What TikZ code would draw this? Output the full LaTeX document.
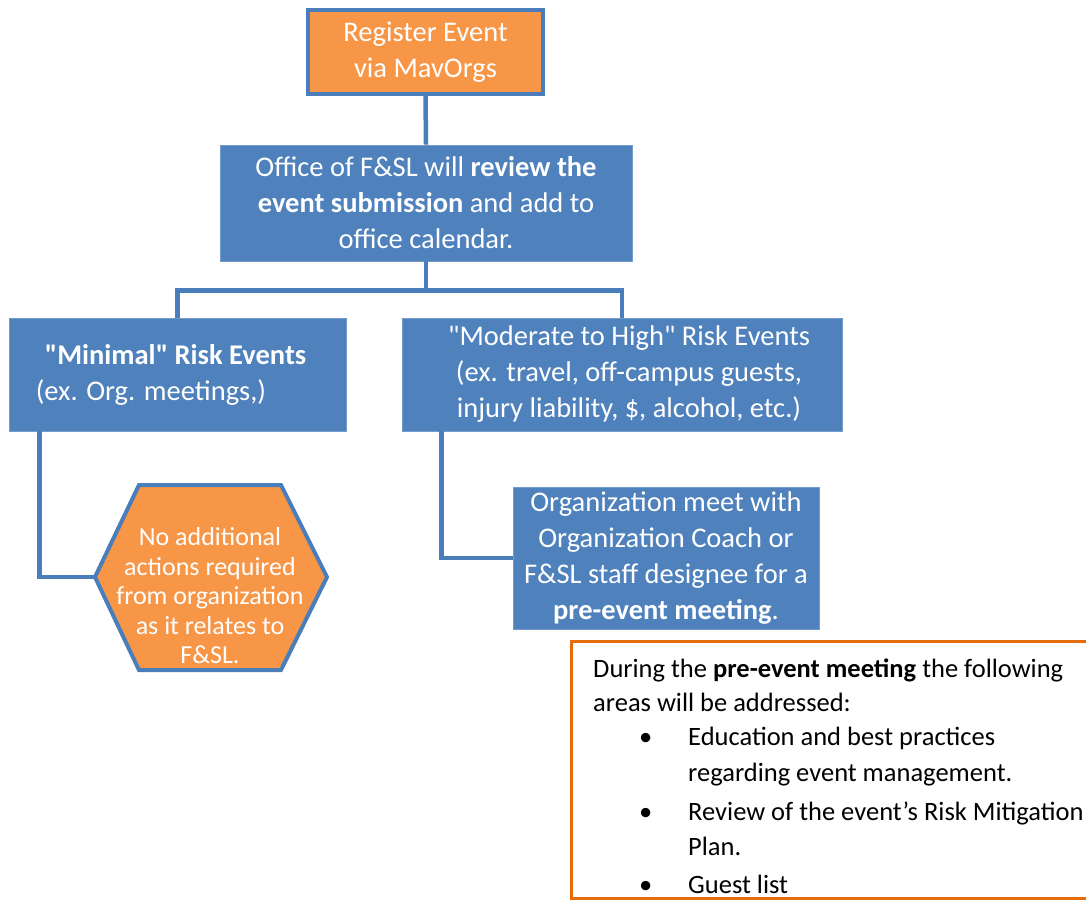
\documentclass[tikz,border=0pt]{standalone}
\usepackage{fontspec}
\setmainfont{Carlito}[Ligatures=TeXOff]
\usetikzlibrary{positioning}

\definecolor{boxblue}{HTML}{4F81BD}
\definecolor{lineblue}{HTML}{4A7EBB}
\definecolor{boxorange}{HTML}{F79646}
\definecolor{edgeorange}{HTML}{E46C0A}

\tikzset{
  bluebox/.style={shape=rectangle,fill=boxblue,draw=boxblue!80!white,line width=0.8pt,
    text=white,align=center,inner sep=0pt,font=\fontsize{28.5}{36}\selectfont},
  orangebox/.style={shape=rectangle,fill=boxorange,draw=lineblue,line width=4pt,
    text=white,align=center,inner sep=0pt,font=\fontsize{28.5}{36}\selectfont},
  link/.style={draw=lineblue,line width=4.5pt},
  notetext/.style={anchor=base west,inner sep=0pt,font=\fontsize{26.5}{36}\selectfont}
}

\begin{document}
\begin{tikzpicture}[x=1pt,y=-1pt]

\useasboundingbox (0,0) rectangle (1086,901);

%% - Draw boxes
%% - --------------------------------------

\node[orangebox,minimum width=235,minimum height=84] (register) at (425.5,52) {Register Event\\via MavOrgs};

\node[bluebox,minimum width=412,minimum height=116] (office) at (426,203)
  {Office of F\&SL will \textbf{review the}\\\textbf{event submission} and add to\\office calendar.};

\node[bluebox,minimum width=337,minimum height=113,align=left] (minimal) at (177.5,374.5)
  {\hspace*{9pt}\textbf{"Minimal" Risk Events}\hspace*{13pt}\\(ex. Org. meetings,)};

\node[bluebox,minimum width=440,minimum height=113] (moderate) at (622,374.5)
  {\hspace*{14pt}"Moderate to High" Risk Events\\\hspace*{14pt}(ex. travel, off-campus guests,\\\hspace*{14pt}injury liability, \$, alcohol, etc.)};

\node[bluebox,minimum width=306,minimum height=142] (orgmeet) at (666,558)
  {Organization meet with\\Organization Coach or\\F\&SL staff designee for a\\\textbf{pre-event meeting}.};

%% - Hexagon
%% - --------------------------------------

\coordinate (hexleft) at (95,577);
\filldraw[fill=boxorange,draw=lineblue,line width=4pt,line join=miter]
  (hexleft) -- (139,485) -- (281,485) -- (327,577) -- (281,670) -- (139,670) -- cycle;
\node[align=center,text=white,inner sep=0pt,font=\fontsize{26}{29.5}\selectfont] (noaction) at (210,596)
  {No additional\\actions required\\from organization\\as it relates to\\F\&SL.};

%% - Connectors
%% - --------------------------------------

\draw[link] (register.south) -- (office.north);
\draw[link] (office.south) -- ++(0,29) coordinate (split) -| (minimal.north);
\draw[link] (split) -| (moderate.north);
\draw[link] ([xshift=31pt]minimal.south west) |- (hexleft);
\draw[link] ([xshift=40pt]moderate.south west) |- (orgmeet.west);

%% - Pre-event meeting note
%% - --------------------------------------

\draw[draw=edgeorange,line width=3pt] (571,641) rectangle (1100,898);

\node[notetext] (during) at (593,677) {During the \textbf{pre-event meeting} the following};
\node[notetext] (areas) at (593,711) {areas will be addressed:};
\node[notetext] (bulleta) at (639,745) {\textbullet};
\node[notetext] (educ) at (688,745) {Education and best practices};
\node[notetext] (regard) at (688,781) {regarding event management.};
\node[notetext] (bulletb) at (639,820) {\textbullet};
\node[notetext] (review) at (688,820) {Review of the event’s Risk Mitigation};
\node[notetext] (plan) at (688,855) {Plan.};
\node[notetext] (bulletc) at (639,893) {\textbullet};
\node[notetext] (guest) at (688,893) {Guest list};

\end{tikzpicture}
\end{document}
